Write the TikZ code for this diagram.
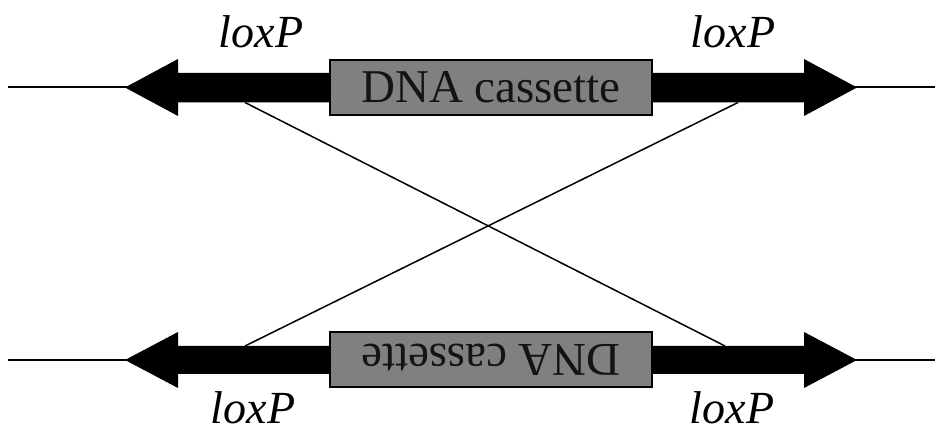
\documentclass[tikz,border=0pt]{standalone}
\usepackage{fontspec}
\setmainfont{Liberation Serif}
\definecolor{cassettegray}{gray}{0.5}
\begin{document}
\begin{tikzpicture}[x=1pt,y=-1pt,
  strand/.style={line width=2pt},
  crossline/.style={line width=1.5pt},
  loxarrow/.style={fill=black},
  cassette/.style={draw=black, line width=1.3pt, fill=cassettegray,
    minimum width=322pt, minimum height=55pt, inner sep=0pt,
    font=\fontsize{47}{50}\selectfont, text=black!92},
  site/.style={font=\fontsize{46}{50}\selectfont\itshape, inner sep=0pt, anchor=base}]
\useasboundingbox (0,0) rectangle (935,435);

% ---- upper strand ----
\coordinate (ul) at (8,87.5);
\coordinate (ur) at (935,87.5);
\draw[strand] (ul) -- (ur);
\fill[loxarrow] (125,87.5) -- (178,59) -- (178,73) -- (804,73) -- (804,59)
  -- (857,87.5) -- (804,116) -- (804,102.5) -- (178,102.5) -- (178,116) -- cycle;
\node[cassette] (topbox) at (491,87.5) {DNA cassette};

% ---- lower strand ----
\coordinate (ll) at (8,360);
\coordinate (lr) at (935,360);
\draw[strand] (ll) -- (lr);
\fill[loxarrow] (125,360) -- (178,332) -- (178,346) -- (804,346) -- (804,332)
  -- (857,360) -- (804,388) -- (804,374) -- (178,374) -- (178,388) -- cycle;
\node[cassette, rotate=180] (botbox) at (491,359.5) {DNA cassette};

% ---- recombination crossover ----
\coordinate (xa) at (245,102.5);
\coordinate (xb) at (725,346);
\coordinate (xc) at (738,102.5);
\coordinate (xd) at (245,346);
\draw[crossline] (xa) -- (xb);
\draw[crossline] (xc) -- (xd);

% ---- site labels ----
\node[site] (lox1) at (261,48) {loxP};
\node[site] (lox2) at (733,48) {loxP};
\node[site] (lox3) at (253,424) {loxP};
\node[site] (lox4) at (732,424) {loxP};
\end{tikzpicture}
\end{document}
